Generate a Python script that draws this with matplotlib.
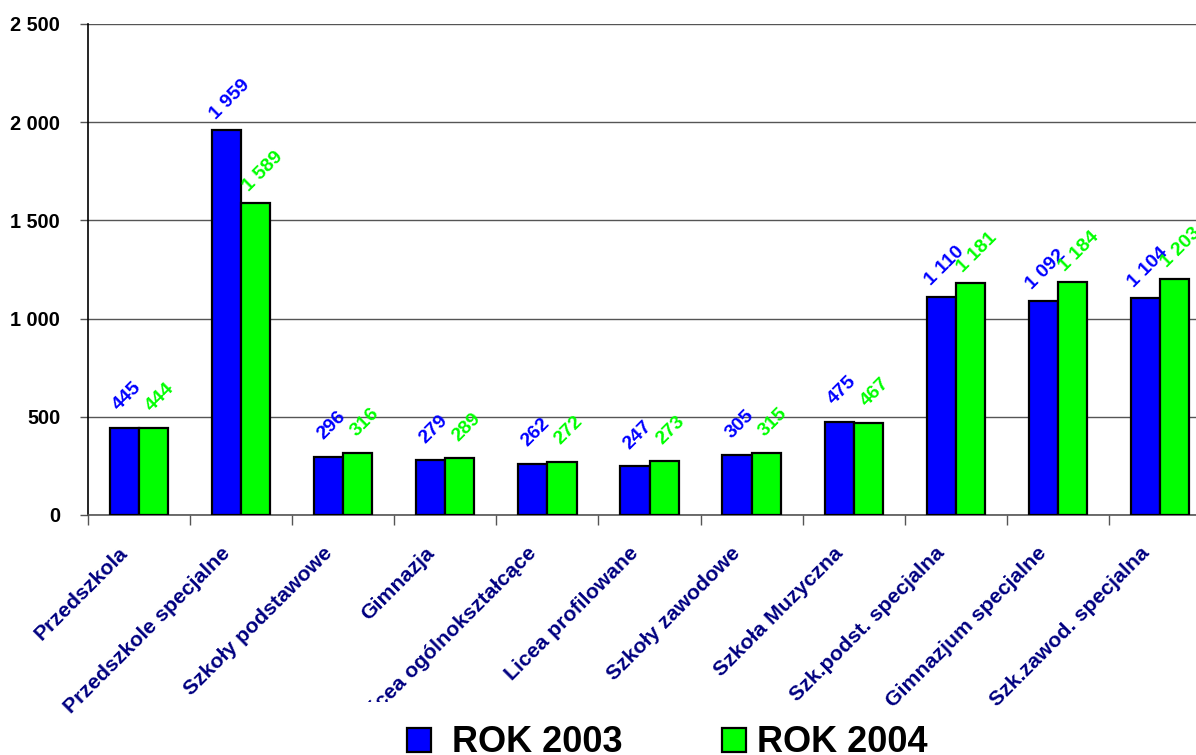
import matplotlib
matplotlib.use("Agg")
import matplotlib.pyplot as plt
import numpy as np
from matplotlib.transforms import ScaledTranslation, Bbox, TransformedBbox
from matplotlib.patches import Rectangle

plt.rcParams['font.family'] = ['Liberation Sans', 'DejaVu Sans']
plt.rcParams['font.weight'] = 'bold'

categories = ["Przedszkola", "Przedszkole specjalne", "Szkoły podstawowe", "Gimnazja",
              "Licea ogólnokształcące", "Licea profilowane", "Szkoły zawodowe",
              "Szkoła Muzyczna", "Szk.podst. specjalna", "Gimnazjum specjalne",
              "Szk.zawod. specjalna"]
rok_2003 = [445, 1959, 296, 279, 262, 247, 305, 475, 1110, 1092, 1104]
rok_2004 = [444, 1589, 316, 289, 272, 273, 315, 467, 1181, 1184, 1203]
series_names = ["ROK 2003", "ROK 2004"]
y_ticks = [0, 500, 1000, 1500, 2000, 2500]

W, H = 1196, 755
fig = plt.figure(figsize=(W / 100, H / 100), dpi=100)
ax = fig.add_axes([88 / W, (H - 515) / H, (1211 - 88) / W, (515 - 24) / H])

x = np.arange(len(categories))
bw = 0.285
blue = '#0000FF'
green = '#00FF00'
ax.bar(x - bw / 2, rok_2003, bw, color=blue, edgecolor='black', linewidth=1.6, zorder=3)
ax.bar(x + bw / 2, rok_2004, bw, color=green, edgecolor='black', linewidth=1.6, zorder=3)

ax.set_xlim(-0.5, len(categories) - 0.5)
ax.set_ylim(0, 2500)
ax.set_yticks(y_ticks)
ax.set_yticklabels([f"{v:,}".replace(",", " ") for v in y_ticks], fontsize=14.3, fontweight='bold')
ax.tick_params(axis='y', length=6, width=1, pad=14, color='#555555')
ax.yaxis.grid(True, color='#555555', linewidth=1.0, zorder=0)
ax.set_axisbelow(True)

ax.set_xticks(np.arange(len(categories) + 1) - 0.5)
ax.set_xticklabels([])
ax.tick_params(axis='x', length=7, width=1, color='#555555')

for s in ['top', 'right']:
    ax.spines[s].set_visible(False)
ax.spines['left'].set_color('black')
ax.spines['bottom'].set_color('#555555')
ax.spines['left'].set_linewidth(1.2)
ax.spines['bottom'].set_linewidth(1.2)

# value labels
for xs, vals, col, dx in [(x - bw / 2, rok_2003, blue, 3), (x + bw / 2, rok_2004, green, 7)]:
    for xi, v in zip(xs, vals):
        t = f"{v:,}".replace(",", " ")
        ax.text(xi, v, t, rotation=45, ha='center', va='center', color=col,
                fontsize=14, fontweight='bold',
                transform=ax.transData + ScaledTranslation(dx / 100, 31 / 100, fig.dpi_scale_trans),
                zorder=4)

# category labels (rotated; the longest label is truncated at the bottom like the original)
clip_normal = TransformedBbox(Bbox([[0, 0], [1, 1]]), fig.transFigure)
clip_long = TransformedBbox(Bbox([[0, (H - 702) / H], [1, 1]]), fig.transFigure)
cat_texts = []
for xi, c in zip(x, categories):
    t = ax.text(xi, 0, c, rotation=45, rotation_mode='anchor', ha='right', va='baseline',
                color='#000080', fontsize=15.3, fontweight='bold',
                transform=ax.get_xaxis_transform() + ScaledTranslation(-10 / 100, -39 / 100, fig.dpi_scale_trans))
    t.set_clip_on(True)
    cat_texts.append(t)

fig.canvas.draw()
renderer = fig.canvas.get_renderer()
extents = [t.get_window_extent(renderer).y0 for t in cat_texts]
lowest = int(np.argmin(extents))
for i, t in enumerate(cat_texts):
    t.set_clip_box(clip_long if i == lowest else clip_normal)

# legend
for (x0, tx), col, name in zip([(407, 452), (722, 757)], [blue, green], series_names):
    fig.patches.append(Rectangle((x0 / W, (H - 752) / H), 24 / W, 24 / H, transform=fig.transFigure,
                                 facecolor=col, edgecolor='black', linewidth=1.6))
    fig.text(tx / W, (H - 742) / H, name, fontsize=26, fontweight='bold', color='black',
             ha='left', va='center')

fig.savefig("out.png", dpi=100)
